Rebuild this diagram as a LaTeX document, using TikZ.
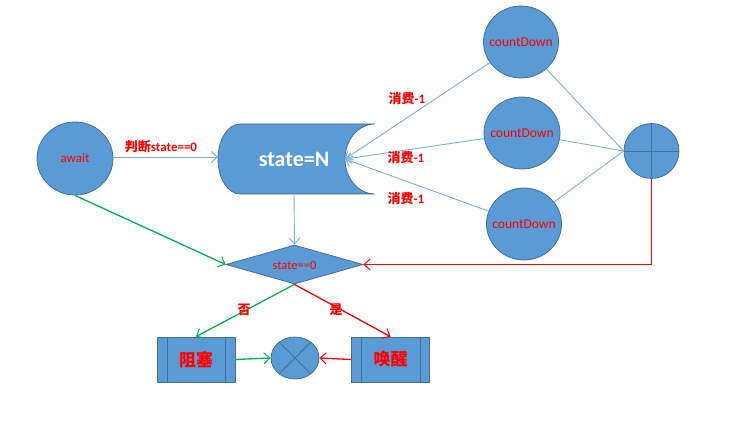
\documentclass[tikz,border=0pt]{standalone}
\usepackage{fontspec}
\setmainfont{Carlito}
\newfontfamily\cjk{Noto Sans CJK SC}
\usetikzlibrary{arrows.meta,shapes.geometric}
\definecolor{fillb}{HTML}{5B9BD5}
\definecolor{edgeb}{HTML}{41719C}
\definecolor{lineb}{HTML}{7FAEDD}
\definecolor{grn}{HTML}{00B050}
\definecolor{rd}{HTML}{FF0000}
\begin{document}
\begin{tikzpicture}[x=1pt,y=-1pt,
  shp/.style={fill=fillb,draw=edgeb,line width=0.8pt},
  circ/.style={shp,ellipse,inner sep=0pt,font=\fontsize{13.5}{15}\selectfont,text=rd},
  tipv/.style={-{Straight Barb[length=6pt,width=11pt,line width=1pt]}},
  blu/.style={draw=lineb,line width=0.9pt},
  gline/.style={draw=grn,line width=1.3pt},
  rline/.style={draw=rd,line width=1.3pt},
  lbl/.style={text=rd,font=\bfseries\fontsize{13}{15}\selectfont,inner sep=0pt},
  pbox/.style={shp,minimum width=78pt,minimum height=45pt,inner sep=0pt,text=rd,font=\cjk\bfseries\fontsize{17}{19}\selectfont}]
\useasboundingbox (0,0) rectangle (744,425);

% await
\node[circ,minimum width=76pt,minimum height=73pt,font=\fontsize{13}{15}\selectfont] (await) at (75,158.5) {\makebox[0pt]{await}};

% state=N stored-data shape
\draw[shp] (240,124) -- (375,124)
  .. controls (358.4,124) and (345,139.7) .. (345,159)
  .. controls (345,178.3) and (358.4,194) .. (375,194)
  -- (240,194)
  .. controls (227.8,194) and (218,178.3) .. (218,159)
  .. controls (218,139.7) and (227.8,124) .. (240,124) -- cycle;
\node[text=white,font=\bfseries\fontsize{22}{24}\selectfont,inner sep=0pt] (sN) at (294,159) {state=N};
\coordinate (sNin) at (345,159);
\coordinate (sNl) at (218,157);
\coordinate (sNb) at (294,194);

% countDown circles
\node[circ,minimum width=75pt,minimum height=72pt] (cd1) at (521,42) {\makebox[0pt]{countDown}};
\node[circ,minimum width=76pt,minimum height=72pt] (cd2) at (522,133) {\makebox[0pt]{countDown}};
\node[circ,minimum width=75pt,minimum height=72pt] (cd3) at (524,224) {\makebox[0pt]{countDown}};

% summing junction
\node[circ,minimum width=55pt,minimum height=55pt] (plus) at (651.5,151) {};
\draw[edgeb,line width=0.8pt] (plus.north) -- (plus.south) (plus.west) -- (plus.east);

% decision diamond
\node[diamond,shp,minimum width=137pt,minimum height=39pt,inner sep=0pt] (dia) at (294.5,264.5) {};
\node[text=rd,font=\fontsize{12.5}{14}\selectfont,inner sep=0pt] (diat) at (294.5,265) {state==0};

% predefined process boxes
\node[pbox] (b1) at (196,359.5) {阻塞};
\draw[edgeb,line width=0.8pt] ([xshift=11pt]b1.north west) -- ([xshift=11pt]b1.south west)
  ([xshift=-10pt]b1.north east) -- ([xshift=-10pt]b1.south east);
\node[pbox] (b2) at (390.5,359.5) {唤醒};
\draw[edgeb,line width=0.8pt] ([xshift=10pt]b2.north west) -- ([xshift=10pt]b2.south west)
  ([xshift=-10pt]b2.north east) -- ([xshift=-10pt]b2.south east);

% cross circle
\node[circ,minimum width=48pt,minimum height=42pt] (cross) at (295,358) {};
\draw[edgeb,line width=0.8pt] (cross.135) -- (cross.-45) (cross.45) -- (cross.-135);

% connectors
\draw[blu,tipv] (await.east |- sNl) -- (sNl);
\node[lbl] (l0) at (161,147) {{\cjk\bfseries 判断}state==0};
\draw[blu,tipv] (sNb) -- (dia.north);
\draw[blu,tipv] (cd1) -- (sNin);
\draw[blu,tipv] (cd2) -- (sNin);
\draw[blu,tipv] (cd3) -- (sNin);
\draw[blu] (cd1) -- (plus.west);
\draw[blu] (cd2) -- (plus.west);
\draw[blu] (cd3) -- (plus.west);
\node[lbl] (l1) at (407,99) {{\cjk\bfseries 消费}-1};
\node[lbl] (l2) at (406,158) {{\cjk\bfseries 消费}-1};
\node[lbl] (l3) at (406,199) {{\cjk\bfseries 消费}-1};

\draw[rline,tipv] (plus.south) |- (dia.east);
\draw[gline,tipv] (await.south) -- (dia.west);
\draw[gline,tipv] (dia.south) -- (b1.north);
\draw[rline,tipv] (dia.south) -- (b2.north);
\node[lbl,font=\cjk\bfseries\fontsize{13}{15}\selectfont] (lno) at (244,310) {否};
\node[lbl,font=\cjk\bfseries\fontsize{13}{15}\selectfont] (lyes) at (336,310) {是};
\draw[gline,tipv] (b1.east) -- (cross.west);
\draw[rline,tipv] (b2.west) -- (cross.east);
\end{tikzpicture}
\end{document}
